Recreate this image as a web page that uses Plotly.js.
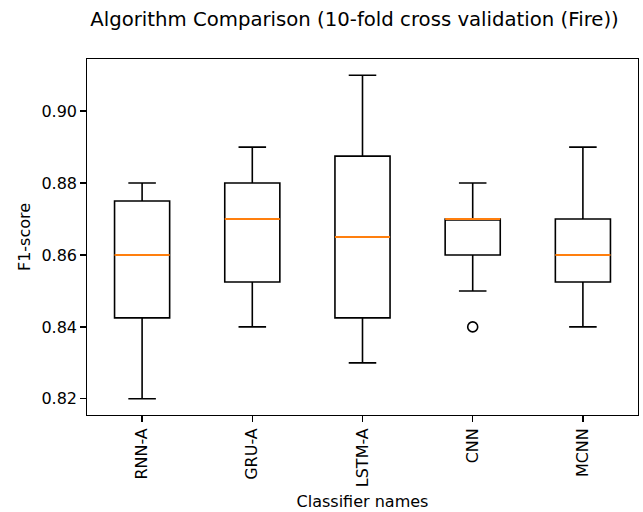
<!DOCTYPE html>
<html>
<head>
<meta charset="utf-8">
<script src="https://cdn.plot.ly/plotly-3.0.1.min.js"></script>
<style>html,body{margin:0;padding:0;background:#fff;}#chart{width:643px;height:512px;}</style>
</head>
<body>
<div id="chart"></div>
<script>
const classifiers = ["RNN-A", "GRU-A", "LSTM-A", "CNN", "MCNN"];
const lowerWhisker = [0.82, 0.84, 0.83, 0.85, 0.84];
const q1Values = [0.8425, 0.8525, 0.8425, 0.86, 0.8525];
const medianValues = [0.86, 0.87, 0.865, 0.87, 0.86];
const q3Values = [0.875, 0.88, 0.8875, 0.87, 0.87];
const upperWhisker = [0.88, 0.89, 0.91, 0.88, 0.89];
const outlierClassifier = ["CNN"];
const outlierValues = [0.84];
const yTicks = [0.82, 0.84, 0.86, 0.88, 0.90];

const positions = classifiers.map((_, i) => i + 1);
const boxHalf = 0.25;
const font = "DejaVu Sans, sans-serif";

const boxTrace = {
  type: "box",
  x: positions,
  q1: q1Values,
  median: medianValues,
  q3: q3Values,
  lowerfence: lowerWhisker,
  upperfence: upperWhisker,
  width: boxHalf * 2,
  whiskerwidth: 0.5,
  fillcolor: "rgba(255,255,255,0)",
  line: {color: "#000000", width: 1.6},
  boxpoints: false,
  hoverinfo: "skip",
  showlegend: false
};

const outlierTrace = {
  type: "scatter",
  mode: "markers",
  x: outlierClassifier.map(c => classifiers.indexOf(c) + 1),
  y: outlierValues,
  marker: {symbol: "circle-open", size: 10, color: "#000000", line: {width: 1.6, color: "#000000"}},
  hoverinfo: "skip",
  showlegend: false
};

const medianShapes = medianValues.map((m, i) => ({
  type: "line", xref: "x", yref: "y",
  x0: positions[i] - boxHalf, x1: positions[i] + boxHalf,
  y0: m, y1: m,
  line: {color: "#ff7f0e", width: 2.2},
  layer: "above"
}));

const layout = {
  width: 643, height: 512,
  margin: {l: 87, r: 5, t: 59, b: 97, pad: 0},
  paper_bgcolor: "#ffffff", plot_bgcolor: "#ffffff",
  font: {family: font, size: 16, color: "#000000"},
  title: {
    text: "Algorithm Comparison (10-fold cross validation (Fire))",
    font: {family: font, size: 19.7, color: "#000000"},
    x: 0.4855, xref: "paper", xanchor: "center",
    y: 0.962, yref: "container", yanchor: "middle"
  },
  xaxis: {
    range: [0.5, 5.5],
    tickmode: "array", tickvals: positions, ticktext: classifiers,
    tickangle: -90,
    ticks: "outside", ticklen: 5.5, tickwidth: 1.3, tickcolor: "#000",
    showline: true, linecolor: "#000", linewidth: 1.3, mirror: true,
    showgrid: false, zeroline: false,
    tickfont: {family: font, size: 16},
    title: {text: "Classifier names", font: {family: font, size: 16}, standoff: 9},
    automargin: false
  },
  yaxis: {
    range: [0.8155, 0.9145],
    tickmode: "array", tickvals: yTicks, ticktext: yTicks.map(v => v.toFixed(2)),
    ticks: "outside", ticklen: 5.5, tickwidth: 1.3, tickcolor: "#000",
    showline: true, linecolor: "#000", linewidth: 1.3, mirror: true,
    showgrid: false, zeroline: false,
    tickfont: {family: font, size: 16},
    title: {text: "F1-score", font: {family: font, size: 16}, standoff: 6},
    automargin: false
  },
  shapes: medianShapes
};

Plotly.newPlot("chart", [boxTrace, outlierTrace], layout, {displayModeBar: false, staticPlot: true});
</script>
</body>
</html>
